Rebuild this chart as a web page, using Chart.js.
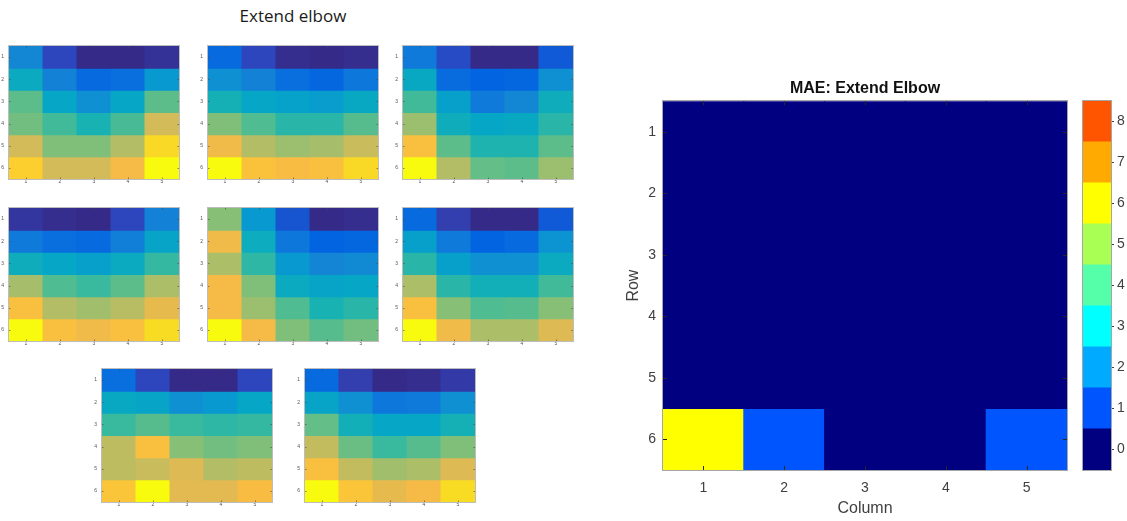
<!DOCTYPE html>
<html>
<head>
<meta charset="utf-8">
<script src="https://cdn.jsdelivr.net/npm/chart.js@4.4.1/dist/chart.umd.min.js"></script>
<style>
  html, body { margin: 0; padding: 0; background: #fff; }
  body { width: 1127px; height: 521px; position: relative; overflow: hidden; }
  .box { position: absolute; }
  .box canvas { display: block; }
  #panelTitle {
    position: absolute; left: 193px; top: 4px; width: 200px; text-align: center;
    font: 17px "Open Sans", sans-serif; color: #1a1a1a;
  }
</style>
</head>
<body>
<div id="panelTitle">Extend elbow</div>
<div id="maps"></div>
<div class="box" style="left:600px;top:70px;"><canvas id="mae" width="480" height="451"></canvas></div>
<div class="box" style="left:1075px;top:70px;"><canvas id="maeBar" width="52" height="451"></canvas></div>

<script>
// ---- data -------------------------------------------------------------
const columns = ['1', '2', '3', '4', '5'];
const rows = [1, 2, 3, 4, 5, 6];

// Per-trial joint maps, scaled 0..1 within each trial (row 1 first).
const trial1 = [
  [0.26, 0.07, 0.00, 0.00, 0.02],
  [0.40, 0.24, 0.15, 0.17, 0.32],
  [0.56, 0.38, 0.29, 0.38, 0.56],
  [0.59, 0.52, 0.45, 0.53, 0.75],
  [0.75, 0.61, 0.61, 0.69, 0.92],
  [0.89, 0.75, 0.75, 0.82, 1.00]
];
const trial2 = [
  [0.15, 0.07, 0.01, 0.00, 0.01],
  [0.29, 0.24, 0.17, 0.14, 0.20],
  [0.44, 0.38, 0.36, 0.34, 0.39],
  [0.61, 0.54, 0.48, 0.48, 0.55],
  [0.81, 0.69, 0.65, 0.67, 0.73],
  [1.00, 0.85, 0.83, 0.84, 0.92]
];
const trial3 = [
  [0.21, 0.08, 0.00, 0.00, 0.11],
  [0.39, 0.16, 0.13, 0.14, 0.29],
  [0.52, 0.35, 0.21, 0.26, 0.42],
  [0.65, 0.42, 0.38, 0.39, 0.48],
  [0.84, 0.56, 0.46, 0.46, 0.56],
  [1.00, 0.69, 0.57, 0.56, 0.65]
];
const trial4 = [
  [0.03, 0.01, 0.00, 0.07, 0.24],
  [0.21, 0.17, 0.15, 0.23, 0.37],
  [0.42, 0.38, 0.35, 0.40, 0.50],
  [0.67, 0.54, 0.51, 0.56, 0.68],
  [0.84, 0.69, 0.66, 0.70, 0.79],
  [1.00, 0.84, 0.81, 0.84, 0.93]
];
const trial5 = [
  [0.62, 0.32, 0.10, 0.00, 0.01],
  [0.81, 0.41, 0.20, 0.13, 0.14],
  [0.68, 0.49, 0.32, 0.25, 0.27],
  [0.82, 0.61, 0.40, 0.37, 0.38],
  [0.82, 0.65, 0.54, 0.45, 0.48],
  [1.00, 0.82, 0.61, 0.55, 0.59]
];
const trial6 = [
  [0.15, 0.05, 0.00, 0.00, 0.11],
  [0.35, 0.21, 0.13, 0.15, 0.30],
  [0.48, 0.35, 0.29, 0.29, 0.40],
  [0.68, 0.48, 0.43, 0.43, 0.52],
  [0.84, 0.62, 0.54, 0.55, 0.62],
  [1.00, 0.81, 0.68, 0.68, 0.77]
];
const trial7 = [
  [0.17, 0.07, 0.00, 0.00, 0.07],
  [0.39, 0.37, 0.29, 0.32, 0.38],
  [0.51, 0.55, 0.51, 0.49, 0.50],
  [0.71, 0.84, 0.62, 0.59, 0.61],
  [0.71, 0.73, 0.77, 0.69, 0.71],
  [0.86, 1.00, 0.78, 0.78, 0.83]
];
const trial8 = [
  [0.15, 0.05, 0.00, 0.01, 0.04],
  [0.37, 0.29, 0.20, 0.21, 0.29],
  [0.57, 0.43, 0.38, 0.38, 0.44],
  [0.72, 0.58, 0.51, 0.55, 0.61],
  [0.84, 0.72, 0.66, 0.68, 0.77],
  [1.00, 0.86, 0.79, 0.82, 0.93]
];

// Mean absolute error per joint cell.
const maeValues = [
  [0, 0, 0, 0, 0],
  [0, 0, 0, 0, 0],
  [0, 0, 0, 0, 0],
  [0, 0, 0, 0, 0],
  [0, 0, 0, 0, 0],
  [6, 1, 0, 0, 1]
];
const maeLevels = [0, 1, 2, 3, 4, 5, 6, 7, 8];
const maeColors = ['#000080', '#0055ff', '#00aaff', '#00ffff', '#55ffaa',
                   '#aaff55', '#ffff00', '#ffaa00', '#ff5500'];

// ---- parula colour map ---------------------------------------------------
const parulaStops = [
  [53, 42, 135], [50, 67, 186], [3, 99, 225], [13, 117, 220],
  [20, 133, 212], [9, 152, 209], [6, 167, 198], [21, 177, 180],
  [56, 185, 158], [101, 190, 134], [146, 191, 115], [183, 189, 100],
  [217, 186, 86], [248, 187, 68], [252, 206, 46], [245, 228, 29], [249, 251, 14]
];
const parulaPos = [0, 4, 8, 12, 16, 20, 24, 28, 32, 36, 40, 44, 48, 52, 56, 60, 63].map(i => i / 63);

function parula(t) {
  t = Math.min(1, Math.max(0, t));
  let k = 0;
  while (k < parulaPos.length - 2 && t > parulaPos[k + 1]) k++;
  const f = (t - parulaPos[k]) / (parulaPos[k + 1] - parulaPos[k]);
  const a = parulaStops[k], b = parulaStops[k + 1];
  const c = a.map((v, i) => Math.round(v + (b[i] - v) * f));
  return `rgb(${c[0]},${c[1]},${c[2]})`;
}

// ---- shared pieces ---------------------------------------------------------
Chart.defaults.font.family = '"Liberation Sans", Arial, sans-serif';
Chart.defaults.animation = false;

// Axes box plus MATLAB-style inward tick marks.
const frameTicks = {
  id: 'frameTicks',
  afterDatasetsDraw(chart, args, o) {
    const { ctx, chartArea: a, scales } = chart;
    ctx.save();
    ctx.lineWidth = 1;
    if (o.tickLen) {
      ctx.strokeStyle = o.tickColor;
      ctx.beginPath();
      scales.x.ticks.forEach((t, i) => {
        const px = Math.round(scales.x.getPixelForTick(i)) + 0.5;
        ctx.moveTo(px, a.top); ctx.lineTo(px, a.top + o.tickLen);
        ctx.moveTo(px, a.bottom); ctx.lineTo(px, a.bottom - o.tickLen);
      });
      scales.y.ticks.forEach(t => {
        const py = Math.round(scales.y.getPixelForValue(t.value)) + 0.5;
        ctx.moveTo(a.left, py); ctx.lineTo(a.left + o.tickLen, py);
        ctx.moveTo(a.right, py); ctx.lineTo(a.right - o.tickLen, py);
      });
      ctx.stroke();
    }
    ctx.strokeStyle = o.color;
    ctx.strokeRect(Math.round(a.left) - 0.5, Math.round(a.top) - 0.5,
                   Math.round(a.right - a.left) + 1, Math.round(a.bottom - a.top) + 1);
    ctx.restore();
  }
};

function cellDatasets(matrix, colorOf) {
  return rows.map((r, i) => ({
    data: matrix[i].map(() => [r - 0.5, r + 0.5]),
    backgroundColor: matrix[i].map(colorOf),
    grouped: false,
    barPercentage: 1,
    categoryPercentage: 1,
    borderWidth: 0,
    inflateAmount: 0.5
  }));
}

const noGrid = { display: false, drawTicks: false };

// ---- small trial maps -------------------------------------------------------
const mapLayout = [
  { data: trial1, left: 9,   top: 45 },
  { data: trial2, left: 208, top: 45 },
  { data: trial3, left: 403, top: 45 },
  { data: trial4, left: 9,   top: 207 },
  { data: trial5, left: 208, top: 207 },
  { data: trial6, left: 403, top: 207 },
  { data: trial7, left: 102, top: 368 },
  { data: trial8, left: 305, top: 368 }
];

const host = document.getElementById('maps');
mapLayout.forEach(m => {
  const div = document.createElement('div');
  div.className = 'box';
  div.style.left = (m.left - 9) + 'px';
  div.style.top = (m.top - 7) + 'px';
  const cv = document.createElement('canvas');
  cv.width = 182; cv.height = 151;
  div.appendChild(cv);
  host.appendChild(div);

  new Chart(cv, {
    type: 'bar',
    data: { labels: columns, datasets: cellDatasets(m.data, parula) },
    plugins: [frameTicks],
    options: {
      responsive: false,
      layout: { padding: { left: 0, top: 4, right: 3, bottom: 0 } },
      plugins: {
        legend: { display: false },
        tooltip: { enabled: false },
        frameTicks: { color: '#bdbdbd', tickLen: 1.5, tickColor: 'rgba(70,70,70,0.6)' }
      },
      scales: {
        x: {
          type: 'category', offset: true,
          grid: noGrid, border: { display: false },
          ticks: { font: { size: 5 }, color: '#555', padding: 0 },
          afterFit(s) { s.height = 10; }
        },
        y: {
          type: 'linear', reverse: true, min: 0.5, max: 6.5,
          grid: noGrid, border: { display: false },
          afterBuildTicks(s) { s.ticks = rows.map(v => ({ value: v })); },
          ticks: { font: { size: 5 }, color: '#555', padding: 5 },
          afterFit(s) { s.width = 9; }
        }
      }
    }
  });
});

// ---- MAE map -------------------------------------------------------------------
const axisGrey = '#404040';
new Chart(document.getElementById('mae'), {
  type: 'bar',
  data: { labels: columns, datasets: cellDatasets(maeValues, v => maeColors[v]) },
  plugins: [frameTicks],
  options: {
    responsive: false,
    layout: { padding: { left: 0, top: 9, right: 13, bottom: 0 } },
    plugins: {
      legend: { display: false },
      tooltip: { enabled: false },
      title: {
        display: true, fullSize: false, text: 'MAE: Extend Elbow', color: '#111',
        font: { size: 16, weight: 'bold' }, padding: { top: 0, bottom: 3 }
      },
      frameTicks: { color: '#a6a6a6', tickLen: 4, tickColor: '#262626' }
    },
    scales: {
      x: {
        type: 'category', offset: true,
        grid: noGrid, border: { display: false },
        ticks: { font: { size: 14 }, color: axisGrey, padding: 10 },
        title: { display: true, text: 'Column', color: axisGrey, font: { size: 16 }, padding: { top: 0, bottom: 3 } },
        afterFit(s) { s.height = 51; }
      },
      y: {
        type: 'linear', reverse: true, min: 0.5, max: 6.5,
        grid: noGrid, border: { display: false },
        afterBuildTicks(s) { s.ticks = rows.map(v => ({ value: v })); },
        ticks: { font: { size: 14 }, color: axisGrey, padding: 7 },
        title: { display: true, text: 'Row', color: axisGrey, font: { size: 16 }, padding: { top: 24, bottom: 0 } },
        afterFit(s) { s.width = 63; }
      }
    }
  }
});

// ---- colour bar ----------------------------------------------------------------
new Chart(document.getElementById('maeBar'), {
  type: 'bar',
  data: {
    labels: [''],
    datasets: maeLevels.map(k => ({
      data: [[k - 0.5, k + 0.5]],
      backgroundColor: maeColors[k],
      grouped: false, barPercentage: 1, categoryPercentage: 1,
      borderWidth: 0, inflateAmount: 0.5
    }))
  },
  plugins: [frameTicks],
  options: {
    responsive: false,
    layout: { padding: { left: 8, top: 31, right: 0, bottom: 51 } },
    plugins: {
      legend: { display: false },
      tooltip: { enabled: false },
      frameTicks: { color: '#a6a6a6', tickLen: 0 }
    },
    scales: {
      x: { type: 'category', display: false, offset: true },
      y: {
        type: 'linear', position: 'right', min: -0.5, max: 8.5,
        grid: { display: true, drawOnChartArea: false, drawTicks: true, tickLength: 3, color: axisGrey },
        border: { display: false },
        afterBuildTicks(s) { s.ticks = maeLevels.map(v => ({ value: v })); },
        ticks: { font: { size: 14 }, color: axisGrey, padding: 3 },
        afterFit(s) { s.width = 16; }
      }
    }
  }
});
</script>
</body>
</html>
